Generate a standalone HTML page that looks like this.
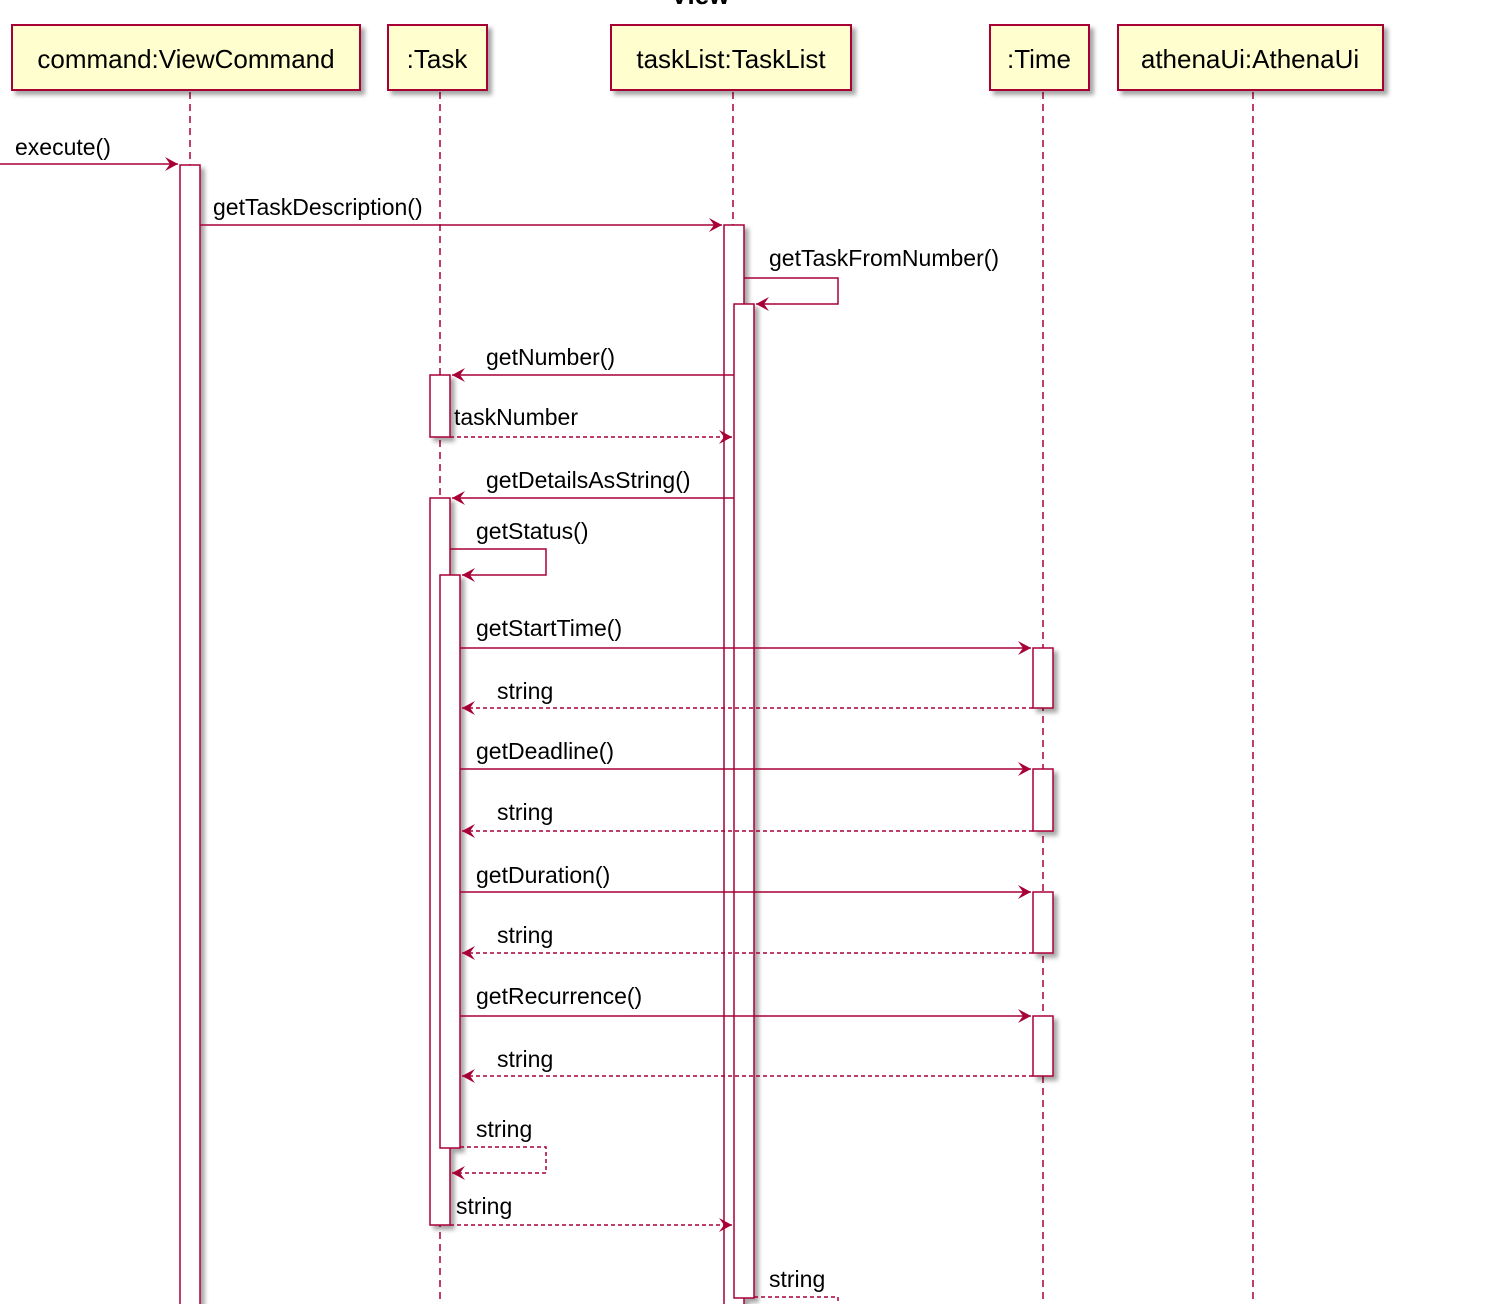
<!DOCTYPE html>
<html><head><style>body{margin:0;background:#fff}svg{display:block}text{font-family:"Liberation Sans",sans-serif;fill:#000}</style></head><body>
<svg width="1498" height="1304" xmlns="http://www.w3.org/2000/svg">
<defs>
<filter id="sh" x="-10%" y="-10%" width="130%" height="130%"><feDropShadow dx="4" dy="4" stdDeviation="2" flood-color="#000" flood-opacity="0.35"/></filter>
<marker id="a" markerWidth="14" markerHeight="14" refX="13" refY="7" orient="auto" markerUnits="userSpaceOnUse"><path d="M0,0 L13,7 L0,14 L5,7 Z" fill="#A80036"/></marker>
</defs>
<text x="700" y="4" font-size="26" font-weight="bold" text-anchor="middle">View</text>
<g stroke="#A80036" stroke-width="1.5" stroke-dasharray="7,5">
<line x1="190" y1="92" x2="190" y2="1304"/><line x1="440" y1="92" x2="440" y2="1304"/><line x1="733" y1="92" x2="733" y2="1304"/><line x1="1043" y1="92" x2="1043" y2="1304"/><line x1="1253" y1="92" x2="1253" y2="1304"/>
</g>
<g fill="#FEFECE" stroke="#A80036" stroke-width="2" filter="url(#sh)">
<rect x="12" y="25" width="348" height="65"/><rect x="388" y="25" width="99" height="65"/><rect x="611" y="25" width="240" height="65"/><rect x="990" y="25" width="99" height="65"/><rect x="1118" y="25" width="265" height="65"/>
</g>
<g font-size="26" text-anchor="middle">
<text x="186" y="68">command:ViewCommand</text><text x="437" y="68">:Task</text><text x="731" y="68">taskList:TaskList</text><text x="1039" y="68">:Time</text><text x="1250" y="68">athenaUi:AthenaUi</text>
</g>
<g fill="#fff" stroke="#A80036" stroke-width="1.5" filter="url(#sh)">
<rect x="180" y="165" width="20" height="1150"/>
<rect x="724" y="225" width="20" height="1090"/>
<rect x="734" y="304" width="20" height="994"/>
<rect x="430" y="375" width="20" height="62"/>
<rect x="430" y="498" width="20" height="727"/>
<rect x="440" y="575" width="20" height="573"/>
<rect x="1033" y="648" width="20" height="60"/>
<rect x="1033" y="769" width="20" height="62"/>
<rect x="1033" y="892" width="20" height="61"/>
<rect x="1033" y="1016" width="20" height="60"/>
</g>
<g stroke="#A80036" stroke-width="1.5" fill="none" marker-end="url(#a)">
<line x1="0" y1="164" x2="178" y2="164"/>
<line x1="200" y1="225" x2="722" y2="225"/>
<polyline points="744,278 838,278 838,304 756,304"/>
<line x1="734" y1="375" x2="452" y2="375"/>
<line x1="734" y1="498" x2="452" y2="498"/>
<polyline points="450,549 546,549 546,575 462,575"/>
<line x1="460" y1="648" x2="1031" y2="648"/>
<line x1="460" y1="769" x2="1031" y2="769"/>
<line x1="460" y1="892" x2="1031" y2="892"/>
<line x1="460" y1="1016" x2="1031" y2="1016"/>
<g stroke-dasharray="4,3">
<line x1="450" y1="437" x2="732" y2="437"/>
<line x1="1033" y1="708" x2="462" y2="708"/>
<line x1="1033" y1="831" x2="462" y2="831"/>
<line x1="1033" y1="953" x2="462" y2="953"/>
<line x1="1033" y1="1076" x2="462" y2="1076"/>
<polyline points="460,1147 546,1147 546,1173 452,1173"/>
<line x1="450" y1="1225" x2="732" y2="1225"/>
</g>
</g>
<polyline points="754,1297 838,1297 838,1304" stroke="#A80036" stroke-width="1.5" fill="none" stroke-dasharray="4,3"/>
<g font-size="23">
<text x="15" y="155">execute()</text>
<text x="213" y="215">getTaskDescription()</text>
<text x="769" y="266">getTaskFromNumber()</text>
<text x="486" y="365">getNumber()</text>
<text x="454" y="425">taskNumber</text>
<text x="486" y="488">getDetailsAsString()</text>
<text x="476" y="539">getStatus()</text>
<text x="476" y="636">getStartTime()</text>
<text x="497" y="699">string</text>
<text x="476" y="759">getDeadline()</text>
<text x="497" y="820">string</text>
<text x="476" y="883">getDuration()</text>
<text x="497" y="943">string</text>
<text x="476" y="1004">getRecurrence()</text>
<text x="497" y="1067">string</text>
<text x="476" y="1137">string</text>
<text x="456" y="1214">string</text>
<text x="769" y="1287">string</text>
</g>
</svg>
</body></html>
